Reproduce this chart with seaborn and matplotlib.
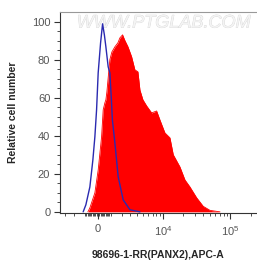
import numpy as np
import pandas as pd
import seaborn as sns
import matplotlib
matplotlib.use("Agg")
import matplotlib.pyplot as plt
import matplotlib.patheffects as pe

# sample (red, filled) histogram: APC-A intensity vs relative cell number
sample_x = [-775, -616, -229, 23, 282, 406, 537, 616, 695, 857, 938, 1105, 1365,
            1640, 1834, 2105, 2354, 2706, 3160, 3613, 4066, 4394, 4912, 5628,
            6752, 8056, 9041, 10750, 12790, 14340, 18020, 21360, 25330, 31820,
            39790, 49970, 70230]
sample_y = [0, 2.1, 10, 22, 39.4, 53.6, 57.3, 58.9, 63, 74.6, 80, 84, 86.7,
            88.8, 91.4, 93, 90, 86.7, 81.5, 74.6, 73.6, 64, 58.9, 55.7,
            52, 53, 48.3, 41.5, 38.9, 30, 23.6, 16.8, 13.1, 7.4,
            2.9, 0.8, 0]

# control (blue line) histogram
control_x = [-1165, -938, -616, -382, -229, -99, 23, 206, 359, 498, 616, 799,
             938, 1063, 1148, 1365, 1669, 2170, 2949, 4394]
control_y = [0, 3.7, 13.1, 27.3, 39.4, 53.6, 73, 88.8, 98.8, 93, 86.7, 76.2,
             73, 58.9, 48.3, 36.3, 18.4, 6.3, 1.1, 0]

x_major = [0, 10000, 100000]
x_major_labels = ["0", r"$\mathregular{10^4}$", r"$\mathregular{10^5}$"]
y_major = [0, 20, 40, 60, 80, 100]

COF = 2244  # asinh cofactor for the biexponential-like axis

sns.set_style("ticks")
plt.rcParams["font.family"] = ["Liberation Sans", "DejaVu Sans"]
plt.rcParams["mathtext.fontset"] = "custom"
plt.rcParams["mathtext.rm"] = "Liberation Sans"

df_s = pd.DataFrame({"x": sample_x, "y": sample_y})
df_c = pd.DataFrame({"x": control_x, "y": control_y})

fig = plt.figure(figsize=(2.57, 2.64), dpi=100)
ax = fig.add_axes([60 / 257, 51 / 264, 197 / 257, 201 / 264])
ax.set_xscale("function", functions=(lambda v: np.arcsinh(np.asarray(v) / COF),
                                     lambda u: COF * np.sinh(np.asarray(u))))

ax.fill_between(df_s["x"], 0, df_s["y"], color="#ff0000", lw=0, zorder=1)
sns.lineplot(data=df_s, x="x", y="y", color="#ff0000", lw=0.6, ax=ax,
             sort=False, zorder=1)
sns.lineplot(data=df_c, x="x", y="y", color="#2a2ab0", lw=1.0, ax=ax,
             sort=False, zorder=3)

ax.set_xlim(-3736, 245900)
ax.set_ylim(-0.6, 105)

# ticks
minors = ([-3000, -2000, -1000] + [-k * 100 for k in range(1, 10)]
          + [k * 100 for k in range(1, 10)]
          + [k * 1000 for k in range(1, 10)]
          + [k * 10000 for k in range(2, 10)] + [200000])
ax.set_xticks(x_major)
ax.set_xticklabels(x_major_labels)
ax.set_xticks(minors, minor=True)
ax.set_yticks(y_major)
ax.set_yticks(np.arange(0, 105, 5), minor=True)

ax.tick_params(axis="both", which="major", length=4, width=0.8, color="#333333",
               labelcolor="#555555", labelsize=8, pad=3)
ax.tick_params(axis="both", which="minor", length=2, width=0.6, color="#333333")
ax.tick_params(axis="x", which="major", pad=4)

for side in ["left", "bottom"]:
    ax.spines[side].set_color("#333333")
    ax.spines[side].set_linewidth(0.8)
ax.spines["top"].set_visible(True)
ax.spines["top"].set_color("#999999")
ax.spines["top"].set_linewidth(0.8)
ax.spines["right"].set_visible(False)

ax.set_xlabel("98696-1-RR(PANX2),APC-A", fontsize=7.5, fontweight="bold",
              labelpad=9)
ax.set_ylabel("Relative cell number", fontsize=7.5, fontweight="bold",
              labelpad=10)

wm = ax.text(0.525, 0.945, "WWW.PTGLAB.COM", transform=ax.transAxes,
             ha="center", va="center", fontsize=13, style="italic",
             color="#f4f4f4", zorder=0)
wm.set_path_effects([pe.withStroke(linewidth=0.5, foreground="#d4d4d4")])

fig.savefig("out.png", dpi=100)
